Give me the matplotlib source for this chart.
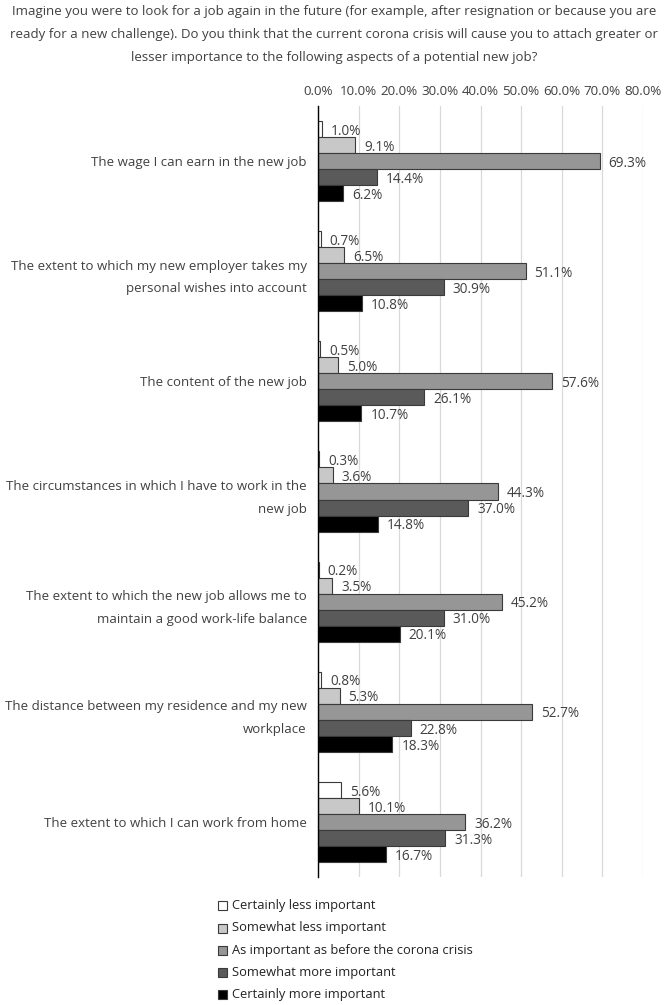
import matplotlib
matplotlib.use("Agg")
import matplotlib.pyplot as plt
import numpy as np
from matplotlib.patches import Rectangle

plt.rcParams['font.family'] = ['Open Sans', 'DejaVu Sans']

categories = [
    "The wage I can earn in the new job",
    "The extent to which my new employer takes my\npersonal wishes into account",
    "The content of the new job",
    "The circumstances in which I have to work in the\nnew job",
    "The extent to which the new job allows me to\nmaintain a good work-life balance",
    "The distance between my residence and my new\nworkplace",
    "The extent to which I can work from home",
]
series_names = [
    "Certainly less important",
    "Somewhat less important",
    "As important as before the corona crisis",
    "Somewhat more important",
    "Certainly more important",
]
certainly_less = [1.0, 0.7, 0.5, 0.3, 0.2, 0.8, 5.6]
somewhat_less = [9.1, 6.5, 5.0, 3.6, 3.5, 5.3, 10.1]
as_important = [69.3, 51.1, 57.6, 44.3, 45.2, 52.7, 36.2]
somewhat_more = [14.4, 30.9, 26.1, 37.0, 31.0, 22.8, 31.3]
certainly_more = [6.2, 10.8, 10.7, 14.8, 20.1, 18.3, 16.7]
series = [certainly_less, somewhat_less, as_important, somewhat_more, certainly_more]
colors = ["#ffffff", "#c8c8c8", "#969696", "#5a5a5a", "#000000"]
xticks = [0, 10, 20, 30, 40, 50, 60, 70, 80]
title = ("Imagine you were to look for a job again in the future (for example, after resignation or because you are\n"
         "ready for a new challenge). Do you think that the current corona crisis will cause you to attach greater or\n"
         "lesser importance to the following aspects of a potential new job?")

W, H = 666, 1005
fig = plt.figure(figsize=(W / 100, H / 100), dpi=100)
ax = fig.add_axes([318 / W, 1 - 877 / H, 325 / W, 771 / H])

txtc = "#404040"
bh = 0.1455
y = np.arange(len(categories))
for i, (vals, col) in enumerate(zip(series, colors)):
    pos = y - 2 * bh + i * bh
    ax.barh(pos, vals, height=bh, color=col, edgecolor="#3a3a3a", linewidth=0.8, zorder=3)
    for p, v in zip(pos, vals):
        ax.text(v + 2.2, p + 0.02, f"{v:.1f}%", va="center", ha="left", fontsize=9.8, color=txtc, zorder=4)

ax.set_xlim(0, 80)
ax.set_ylim(len(categories) - 0.5, -0.5)
ax.set_xticks(xticks)
ax.set_xticklabels([f"{t:.1f}%" for t in xticks])
ax.xaxis.tick_top()
ax.tick_params(axis="x", length=0, pad=6, labelsize=9.6, labelcolor=txtc)
ax.set_yticks(y)
ax.set_yticklabels(categories, fontsize=9.5, color=txtc, ha="right", linespacing=1.95)
ax.tick_params(axis="y", length=0, pad=8)
ax.grid(axis="x", color="#d9d9d9", linewidth=0.9, zorder=0)
for s in ["top", "right", "bottom"]:
    ax.spines[s].set_visible(False)
ax.spines["left"].set_color("#000000")
ax.spines["left"].set_linewidth(1.0)
ax.spines["left"].set_zorder(5)

fig.text(334 / W, 1 - 34.5 / H, title, ha="center", va="center", fontsize=9.55, color=txtc, linespacing=1.95)

# legend
leg_y = [905, 928, 950, 972, 994]
for name, col, ly in zip(series_names, colors, leg_y):
    sq = Rectangle((218 / W, 1 - (ly + 4.5) / H), 9 / W, 9 / H, transform=fig.transFigure,
                   facecolor=col, edgecolor="#3a3a3a", linewidth=0.8)
    fig.add_artist(sq)
    fig.text(232 / W, 1 - ly / H, name, ha="left", va="center", fontsize=9.3, color="#222222")

fig.savefig("out.png", dpi=100)
